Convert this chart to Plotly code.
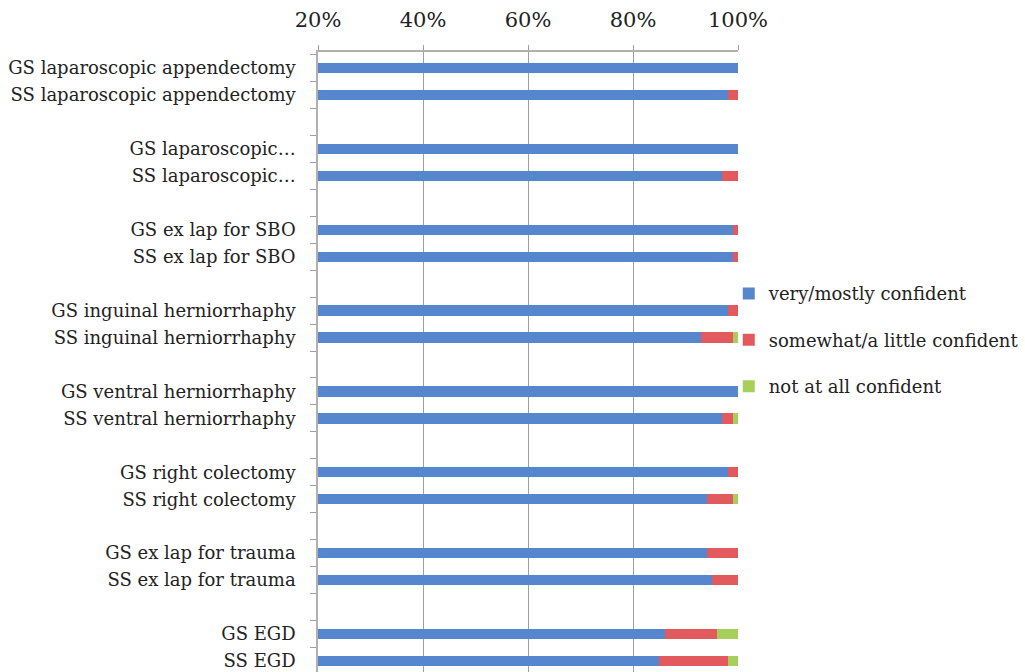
import plotly.graph_objects as go

# Survey of resident confidence, one pair (GS / SS) per procedure
row_labels = [
    "GS laparoscopic appendectomy", "SS laparoscopic appendectomy",
    "GS laparoscopic…", "SS laparoscopic…",
    "GS ex lap for SBO", "SS ex lap for SBO",
    "GS inguinal herniorrhaphy", "SS inguinal herniorrhaphy",
    "GS ventral herniorrhaphy", "SS ventral herniorrhaphy",
    "GS right colectomy", "SS right colectomy",
    "GS ex lap for trauma", "SS ex lap for trauma",
    "GS EGD", "SS EGD",
]
very_mostly = [100, 98, 100, 97, 99, 99, 98, 93, 100, 97, 98, 94, 94, 95, 86, 85]
somewhat_little = [0, 2, 0, 3, 1, 1, 2, 6, 0, 2, 2, 5, 6, 5, 10, 13]
not_at_all = [0, 0, 0, 0, 0, 0, 0, 1, 0, 1, 0, 1, 0, 0, 4, 2]
x_ticks = [20, 40, 60, 80, 100]

series = [
    ("very/mostly confident", very_mostly, "#5686CE"),
    ("somewhat/a little confident", somewhat_little, "#E25A5D"),
    ("not at all confident", not_at_all, "#A6CF5C"),
]

# each pair occupies two slots followed by an empty spacer slot
ypos = [3 * (i // 2) + (i % 2) for i in range(len(row_labels))]

fig = go.Figure()
for k, (name, vals, color) in enumerate(series):
    fig.add_trace(go.Bar(
        x=vals, y=ypos, orientation="h", name=name,
        marker=dict(color=color, line=dict(width=0)),
        width=0.38, legendgroup=str(k),
    ))

font_family = "DejaVu Serif"
boundaries = [p + 0.5 for p in range(-1, max(ypos) + 1)]

fig.update_layout(
    barmode="stack",
    width=1025, height=672,
    margin=dict(l=318, r=287, t=52, b=0),
    plot_bgcolor="white", paper_bgcolor="white",
    font=dict(family=font_family, color="#222222"),
    showlegend=True,
    legend=dict(
        x=0.978, xanchor="left", y=0.64, yanchor="top",
        bgcolor="rgba(0,0,0,0)",
        font=dict(family=font_family, size=18, color="#222222"),
        tracegroupgap=20, traceorder="grouped", itemwidth=30,
    ),
    xaxis=dict(
        side="top", range=[20, 100], tickvals=x_ticks,
        ticktext=[f"{v}%" for v in x_ticks],
        tickfont=dict(size=21, color="#222222"),
        showgrid=True, gridcolor="#A0A0A0", gridwidth=1,
        showline=True, linecolor="#B0B0B0", linewidth=1.5,
        ticks="outside", ticklen=5, tickcolor="#A0A0A0",
        ticklabelstandoff=10, zeroline=False,
    ),
    yaxis=dict(
        range=[22.41, -0.594], tickvals=ypos, ticktext=row_labels,
        tickfont=dict(size=18, color="#222222"),
        showgrid=False, zeroline=False,
        showline=True, linecolor="#B0B0B0", linewidth=1.5,
        ticks="", ticklabelstandoff=17,
        minor=dict(tickvals=boundaries, ticks="outside", ticklen=6,
                   tickcolor="#A0A0A0", showgrid=False),
    ),
)

fig.write_html("out.html")
